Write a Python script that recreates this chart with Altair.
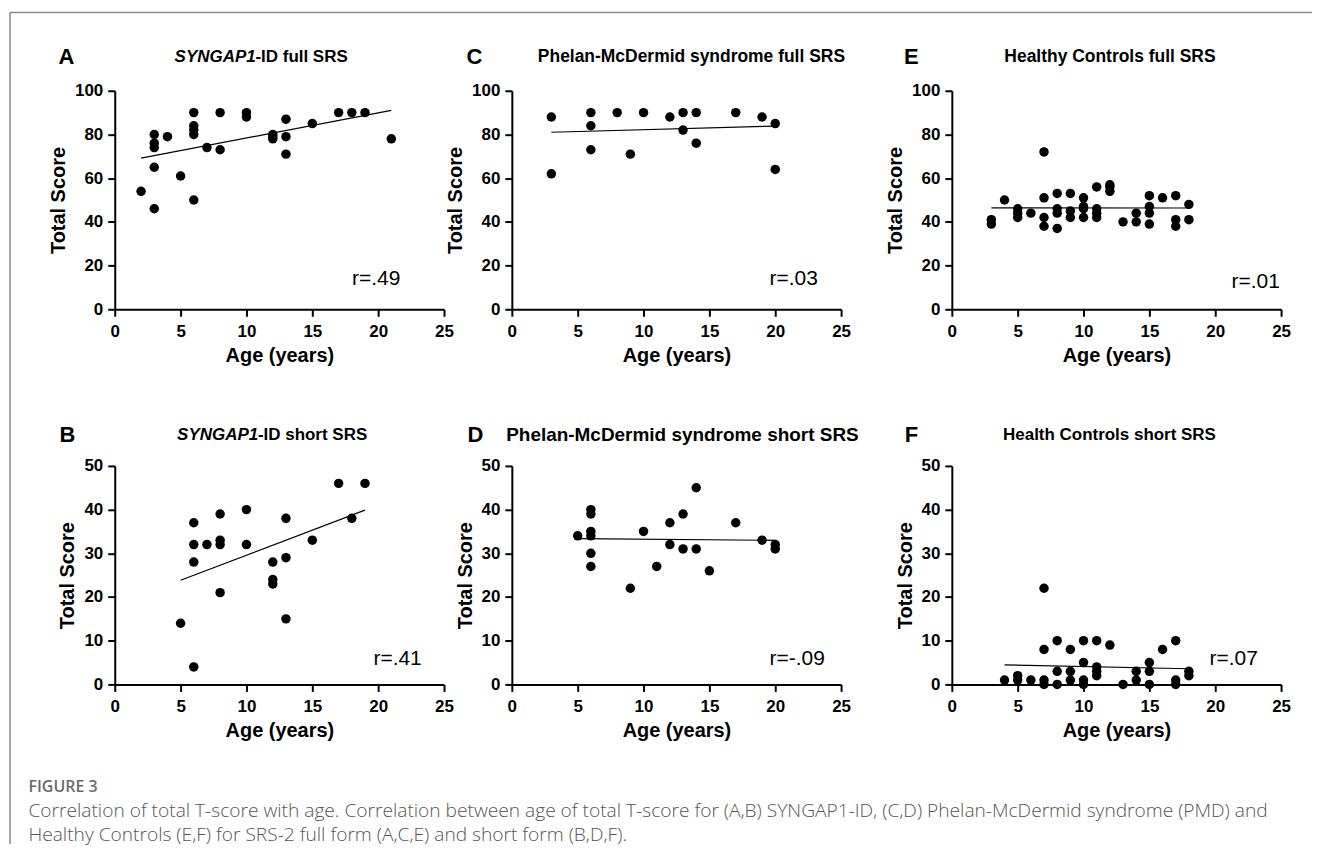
import altair as alt
import pandas as pd

# ---------------- data ----------------
A_AGE = [2, 3, 3, 3, 3, 3, 4, 5, 6, 6, 6, 6, 6, 7, 8, 8, 10, 10, 12, 12, 12, 13, 13, 13, 15, 17, 18, 19, 21]
A_SCORE = [54, 80, 76, 74, 65, 46, 79, 61, 90, 84, 82, 80, 50, 74, 90, 73, 90, 88, 80, 79, 78, 87, 79, 71, 85, 90, 90, 90, 78]

B_AGE = [5, 6, 6, 6, 6, 7, 8, 8, 8, 8, 10, 10, 12, 12, 12, 13, 13, 13, 15, 17, 18, 19]
B_SCORE = [14, 37, 32, 28, 4, 32, 39, 33, 32, 21, 40, 32, 28, 24, 23, 38, 29, 15, 33, 46, 38, 46]

C_AGE = [3, 3, 6, 6, 6, 8, 9, 10, 12, 13, 13, 14, 14, 17, 19, 20, 20]
C_SCORE = [88, 62, 90, 84, 73, 90, 71, 90, 88, 90, 82, 90, 76, 90, 88, 85, 64]

D_AGE = [5, 6, 6, 6, 6, 6, 6, 9, 10, 11, 12, 12, 13, 13, 14, 14, 15, 17, 19, 20, 20]
D_SCORE = [34, 40, 39, 35, 34, 30, 27, 22, 35, 27, 37, 32, 39, 31, 45, 31, 26, 37, 33, 32, 31]

E_AGE = [3, 3, 4, 5, 5, 5, 6, 7, 7, 7, 7, 8, 8, 8, 8, 9, 9, 9, 10, 10, 10, 10,
         11, 11, 11, 11, 12, 12, 12, 13, 14, 14, 15, 15, 15, 15, 16, 17, 17, 17, 18, 18]
E_SCORE = [41, 39, 50, 46, 44, 42, 44, 72, 51, 42, 38, 53, 46, 44, 37, 53, 45, 42, 51, 47, 46, 42,
           56, 46, 44, 42, 57, 56, 54, 40, 44, 40, 52, 47, 44, 39, 51, 52, 41, 38, 48, 41]

F_AGE = [4, 5, 5, 6, 7, 7, 7, 7, 8, 8, 8, 9, 9, 9, 10, 10, 10, 10, 11, 11, 11, 11,
         12, 13, 14, 14, 15, 15, 15, 16, 17, 17, 17, 18, 18]
F_SCORE = [1, 2, 1, 1, 22, 8, 1, 0, 10, 3, 0, 8, 3, 1, 10, 5, 1, 0, 10, 4, 3, 2,
           9, 0, 3, 1, 5, 3, 0, 8, 10, 1, 0, 3, 2]

LETTERS = ["A", "B", "C", "D", "E", "F"]
R_TEXTS = ["r=.49", "r=.41", "r=.03", "r=-.09", "r=.01", "r=.07"]
X_TICKS = [0, 5, 10, 15, 20, 25]
Y_TICKS_FULL = [0, 20, 40, 60, 80, 100]
Y_TICKS_SHORT = [0, 10, 20, 30, 40, 50]
X_TITLE = "Age (years)"
Y_TITLE = "Total Score"
CAPTION_HEAD = "FIGURE 3"
CAPTION_1 = ("Correlation of total T-score with age. Correlation between age of total T-score for "
             "(A,B) SYNGAP1-ID, (C,D) Phelan-McDermid syndrome (PMD) and")
CAPTION_2 = "Healthy Controls (E,F) for SRS-2 full form (A,C,E) and short form (B,D,F)."

FONT = "Liberation Sans"
CAP_FONT = "Open Sans"
W, H = 330, 219


def txt(text, x, y, size, weight="normal", style="normal", align="center",
        color="black", font=FONT):
    return alt.Chart(pd.DataFrame({"t": [text]})).mark_text(
        align=align, baseline="middle", fontSize=size, fontWeight=weight,
        fontStyle=style, font=font, color=color
    ).encode(x=alt.value(x), y=alt.value(y), text="t:N")


def panel(age, score, yticks, letter, letter_xy, title_layers, r_text, r_xy, extra=()):
    df = pd.DataFrame({"age": age, "score": score})
    base = alt.Chart(df)
    x = alt.X("age:Q", scale=alt.Scale(domain=[0, 25], nice=False),
              axis=alt.Axis(values=X_TICKS, title=X_TITLE))
    y = alt.Y("score:Q", scale=alt.Scale(domain=[0, yticks[-1]], nice=False),
              axis=alt.Axis(values=yticks, title=Y_TITLE))
    reg = base.transform_regression("age", "score").mark_line(
        color="black", strokeWidth=1.2).encode(x=x, y=y)
    pts = base.mark_circle(size=90, color="black", opacity=1).encode(x=x, y=y)
    layers = [reg, pts,
              txt(letter, letter_xy[0], letter_xy[1], 22, weight="bold"),
              txt(r_text, r_xy[0], r_xy[1], 21)]
    layers += list(title_layers) + list(extra)
    return alt.layer(*layers).properties(width=W, height=H)


def spacer(w):
    return alt.Chart(pd.DataFrame({"v": [0]})).mark_point(opacity=0).encode(
        x=alt.value(0), y=alt.value(0)).properties(width=w, height=H)


border = [
    alt.Chart(pd.DataFrame({"v": [0]})).mark_rule(color="#8a8a8a", strokeWidth=1.5).encode(
        x=alt.value(-105), x2=alt.value(1200), y=alt.value(-78.5)),
    alt.Chart(pd.DataFrame({"v": [0]})).mark_rule(color="#8a8a8a", strokeWidth=1.5).encode(
        x=alt.value(-105), y=alt.value(-78.5), y2=alt.value(755)),
]

caption = [
    txt(CAPTION_HEAD, -86.5, 322, 16, weight=600, align="left", color="#6a6a6a", font=CAP_FONT),
    txt(CAPTION_1, -86.5, 346, 19.2, weight=300, align="left", color="#555555", font=CAP_FONT),
    txt(CAPTION_2, -86.5, 370, 19.2, weight=300, align="left", color="#555555", font=CAP_FONT),
]

pA = panel(A_AGE, A_SCORE, Y_TICKS_FULL, LETTERS[0], (-48.5, -34),
           [txt("SYNGAP1", 60, -34, 17, weight="bold", style="italic", align="left"),
            txt("-ID full SRS", 141, -34, 17, weight="bold", align="left")],
           R_TEXTS[0], (262, 189), extra=border)
pB = panel(B_AGE, B_SCORE, Y_TICKS_SHORT, LETTERS[1], (-47.5, -31),
           [txt("SYNGAP1", 62.5, -31, 17, weight="bold", style="italic", align="left"),
            txt("-ID short SRS", 143.5, -31, 17, weight="bold", align="left")],
           R_TEXTS[1], (283.5, 194), extra=caption)
pC = panel(C_AGE, C_SCORE, Y_TICKS_FULL, LETTERS[2], (-37.5, -34),
           [txt("Phelan-McDermid syndrome full SRS", 180, -34, 17.5, weight="bold")],
           R_TEXTS[2], (282.5, 189))
pD = panel(D_AGE, D_SCORE, Y_TICKS_SHORT, LETTERS[3], (-36.5, -31),
           [txt("Phelan-McDermid syndrome short SRS", 171, -31, 19, weight="bold")],
           R_TEXTS[3], (286, 194))
pE = panel(E_AGE, E_SCORE, Y_TICKS_FULL, LETTERS[4], (-40.5, -34),
           [txt("Healthy Controls full SRS", 158.5, -34, 17.5, weight="bold")],
           R_TEXTS[4], (304.5, 192))
pF = panel(F_AGE, F_SCORE, Y_TICKS_SHORT, LETTERS[5], (-40.5, -31),
           [txt("Health Controls short SRS", 158, -31, 17, weight="bold")],
           R_TEXTS[5], (282.5, 194))

chart = alt.concat(
    pA, spacer(68), pC, spacer(111), pE,
    pB, spacer(68), pD, spacer(111), pF,
    columns=5, spacing={"row": 157, "column": 0}, bounds="flush", align="each",
).properties(
    padding={"left": 0, "top": 2, "right": 0, "bottom": 0}
).configure_view(
    stroke="transparent"
).configure_axis(
    grid=False, domainColor="black", domainWidth=2, tickColor="black", tickWidth=2,
    tickSize=7, labelFont=FONT, labelFontSize=17, labelFontWeight="bold", labelColor="black",
    titleFont=FONT, titleFontSize=20, titleFontWeight="bold", titleColor="black",
    labelFlush=False, labelOverlap=False
).configure_axisX(
    labelPadding=7, titlePadding=6
).configure_axisY(
    labelPadding=5, titlePadding=6
)

chart.save("out.html", embed_options={"renderer": "svg", "actions": False})
